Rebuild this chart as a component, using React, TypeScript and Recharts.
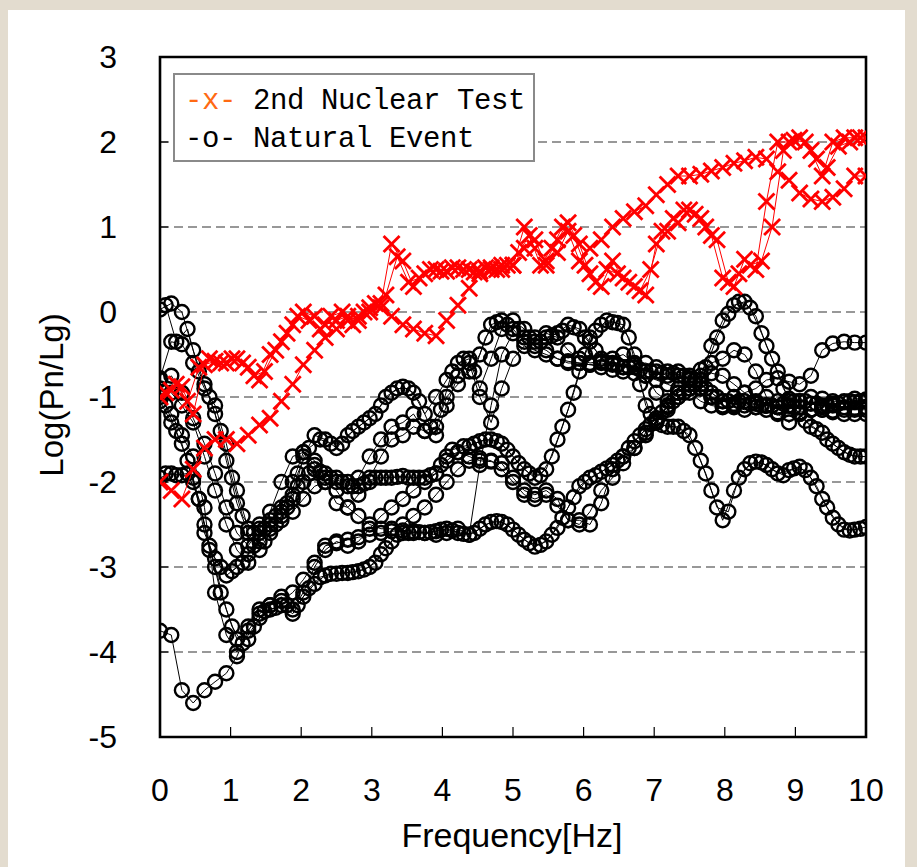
import React from 'react';
import { ScatterChart, Scatter, XAxis, YAxis, CartesianGrid, ReferenceArea } from 'recharts';

// Frequency grids (Hz)
const FREQ = [0, 0.16, 0.31, 0.47, 0.63, 0.78, 0.94, 1.09, 1.25, 1.41, 1.56, 1.72, 1.88, 2.03, 2.19, 2.34, 2.5, 2.66, 2.81, 2.97, 3.13, 3.28, 3.44, 3.59, 3.75, 3.91, 4.06, 4.22, 4.38, 4.53, 4.69, 4.84, 5.0, 5.16, 5.31, 5.47, 5.63, 5.78, 5.94, 6.09, 6.25, 6.41, 6.56, 6.72, 6.88, 7.03, 7.19, 7.34, 7.5, 7.66, 7.81, 7.97, 8.13, 8.28, 8.44, 8.59, 8.75, 8.91, 9.06, 9.22, 9.38, 9.53, 9.69, 9.84, 10.0];
const FREQ_B = [0.08, 0.23, 0.39, 0.55, 0.7, 0.86, 1.02, 1.17, 1.33, 1.48, 1.64, 1.8, 1.95, 2.11, 2.27, 2.42, 2.58, 2.73, 2.89, 3.05, 3.2, 3.36, 3.52, 3.67, 3.83, 3.98, 4.14, 4.3, 4.45, 4.61, 4.77, 4.92, 5.08, 5.23, 5.39, 5.55, 5.7, 5.86, 6.02, 6.17, 6.33, 6.48, 6.64, 6.8, 6.95, 7.11, 7.27, 7.42, 7.58, 7.73, 7.89, 8.05, 8.2, 8.36, 8.52, 8.67, 8.83, 8.98, 9.14, 9.3, 9.45, 9.61, 9.77, 9.92];

const X_TICKS = [0, 1, 2, 3, 4, 5, 6, 7, 8, 9, 10];
const Y_TICKS = [-5, -4, -3, -2, -1, 0, 1, 2, 3];

const LEGEND_NUCLEAR = '2nd Nuclear Test';
const LEGEND_NATURAL = 'Natural Event';
const X_LABEL = 'Frequency[Hz]';
const Y_LABEL = 'Log(Pn/Lg)';

// 2nd Nuclear Test (red x)
const NUCLEAR_1 = [-1.0, -0.92, -0.88, -1.2, -0.62, -0.58, -0.6, -0.55, -0.65, -0.8, -0.5, -0.35, -0.15, 0.0, -0.05, -0.15, -0.1, -0.05, -0.1, 0.05, 0.1, 0.8, 0.6, 0.3, 0.45, 0.5, 0.48, 0.52, 0.5, 0.48, 0.52, 0.5, 0.55, 1.0, 0.75, 0.6, 0.85, 1.05, 0.8, 0.45, 0.3, 0.6, 0.4, 0.3, 0.2, 0.8, 0.95, 1.05, 1.2, 1.1, 0.9, 0.4, 0.3, 0.62, 0.5, 1.3, 2.0, 2.0, 2.05, 1.9, 1.6, 2.0, 2.05, 2.05, 2.05];
const NUCLEAR_2 = [-2.0, -2.1, -2.2, -1.85, -1.6, -1.5, -1.5, -1.55, -1.45, -1.33, -1.25, -1.05, -0.85, -0.62, -0.45, -0.3, -0.2, -0.1, -0.05, 0.0, 0.05, -0.05, -0.15, -0.2, -0.25, -0.28, -0.1, 0.08, 0.28, 0.45, 0.5, 0.55, 0.55, 0.75, 0.85, 0.55, 0.7, 0.95, 0.6, 0.75, 0.85, 1.0, 1.1, 1.18, 1.25, 1.38, 1.5, 1.6, 1.6, 1.62, 1.66, 1.7, 1.75, 1.78, 1.82, 1.8, 1.65, 1.55, 1.4, 1.33, 1.3, 1.35, 1.45, 1.6, 1.6];
// on FREQ_B
const NUCLEAR_3 = [-0.95, -0.85, -1.05, -0.65, -0.55, -0.6, -0.55, -0.6, -0.75, -0.7, -0.45, -0.25, -0.05, -0.1, -0.2, -0.05, 0.0, -0.15, 0.0, 0.1, 0.2, 0.65, 0.35, 0.4, 0.5, 0.48, 0.52, 0.5, 0.47, 0.52, 0.5, 0.55, 0.7, 0.9, 0.55, 0.75, 1.0, 0.9, 0.55, 0.35, 0.5, 0.45, 0.35, 0.25, 0.5, 0.95, 1.1, 1.2, 1.15, 1.0, 0.85, 0.35, 0.45, 0.55, 0.6, 1.0, 1.9, 2.02, 2.0, 1.8, 1.7, 1.95, 2.0, 2.05];

// Natural Event (black o) on FREQ
const NATURAL_1 = [0.03, 0.1, 0.0, -0.45, -0.85, -1.2, -1.75, -2.25, -2.6, -2.8, -2.6, -2.4, -2.2, -1.7, -1.45, -1.5, -1.6, -1.45, -1.35, -1.25, -1.1, -0.95, -0.88, -0.95, -1.2, -1.0, -0.8, -0.6, -0.55, -0.9, -0.55, -0.2, -0.1, -0.2, -0.35, -0.3, -0.25, -0.15, -0.2, -0.35, -0.55, -0.6, -0.65, -0.65, -0.7, -0.7, -0.75, -0.7, -0.75, -0.85, -0.95, -1.05, -1.0, -0.95, -0.9, -0.8, -0.78, -0.82, -0.85, -0.75, -0.45, -0.37, -0.35, -0.36, -0.36];
const NATURAL_2 = [-0.78, -0.35, -0.38, -0.6, -0.9, -1.1, -1.55, -2.1, -2.55, -2.5, -2.45, -2.35, -2.0, -1.65, -1.75, -1.95, -2.0, -2.05, -1.95, -1.7, -1.5, -1.35, -1.3, -1.2, -1.4, -1.45, -1.1, -0.75, -0.6, -1.0, -1.3, -0.9, -0.55, -0.4, -0.45, -0.5, -0.55, -0.6, -0.6, -0.62, -0.65, -0.68, -0.7, -0.72, -0.75, -0.8, -0.85, -0.9, -0.95, -1.05, -1.1, -1.12, -1.1, -1.05, -1.08, -1.1, -1.12, -1.1, -1.05, -1.0, -1.02, -1.05, -1.05, -1.02, -1.03];
const NATURAL_3 = [-1.0, -1.2, -1.45, -1.7, -2.3, -3.3, -3.8, -4.0, -3.7, -3.5, -3.45, -3.35, -3.5, -3.3, -3.0, -2.8, -2.7, -2.75, -2.7, -2.55, -2.4, -2.3, -2.2, -2.1, -2.0, -1.9, -1.75, -1.65, -1.58, -1.52, -1.5, -1.55, -1.7, -1.85, -1.95, -1.85, -1.5, -1.15, -0.7, -0.3, -0.15, -0.12, -0.15, -0.5, -1.1, -1.3, -1.35, -1.35, -1.45, -1.75, -2.1, -2.45, -2.1, -1.85, -1.76, -1.8, -1.9, -1.86, -1.82, -1.95, -2.2, -2.42, -2.56, -2.56, -2.53];
const NATURAL_4 = [-1.95, -1.9, -1.92, -1.95, -2.6, -2.9, -3.1, -3.0, -2.85, -2.6, -2.5, -2.3, -2.15, -2.0, -1.85, -1.9, -1.95, -2.0, -2.05, -2.0, -1.95, -1.95, -1.93, -1.95, -1.95, -1.9, -1.7, -1.65, -1.7, -1.75, -1.76, -1.78, -1.95, -2.1, -2.15, -2.1, -2.2, -2.45, -2.45, -2.5, -2.25, -1.85, -1.7, -1.6, -1.45, -1.3, -1.15, -1.0, -0.9, -0.75, -0.4, -0.1, 0.08, 0.12, -0.05, -0.4, -0.7, -1.05, -1.2, -1.35, -1.42, -1.55, -1.65, -1.7, -1.7];
const NATURAL_5 = [-3.75, -3.8, -4.45, -4.6, -4.45, -4.35, -4.25, -4.05, -3.75, -3.55, -3.45, -3.4, -3.3, -3.15, -2.95, -2.75, -2.72, -2.68, -2.65, -2.62, -2.6, -2.58, -2.57, -2.58, -2.6, -2.58, -2.55, -2.6, -2.62, -2.55, -2.47, -2.47, -2.56, -2.68, -2.76, -2.7, -2.54, -2.3, -2.05, -1.95, -1.88, -1.8, -1.7, -1.52, -1.38, -1.25, -1.12, -1.0, -0.9, -0.8, -0.72, -0.75, -0.85, -0.95, -1.05, -1.1, -1.12, -1.1, -1.12, -1.15, -1.12, -1.1, -1.12, -1.13, -1.12];
const NATURAL_6 = [-1.05, -1.3, -1.55, -2.0, -2.5, -3.0, -3.5, -3.85, -3.85, -3.6, -3.5, -3.45, -3.55, -3.35, -3.2, -3.1, -3.08, -3.07, -3.05, -3.0, -2.85, -2.7, -2.5, -2.4, -2.3, -2.15, -2.0, -1.85, -1.75, -1.72, -1.75, -1.85, -2.0, -2.15, -2.2, -2.15, -2.28, -2.45, -2.5, -2.35, -2.1, -1.95, -1.78, -1.6, -1.42, -1.28, -1.1, -0.95, -0.78, -0.68, -0.6, -0.55, -0.45, -0.5, -0.7, -1.0, -1.2, -1.3, -1.2, -1.15, -1.15, -1.18, -1.2, -1.2, -1.2];
const NATURAL_7 = [-0.8, -0.95, -1.1, -1.3, -1.7, -2.1, -2.5, -2.8, -2.95, -2.7, -2.55, -2.45, -2.35, -2.2, -2.05, -2.0, -2.1, -2.3, -2.4, -2.5, -2.55, -2.55, -2.6, -2.6, -2.6, -2.62, -2.6, -2.55, -2.62, -1.8, -1.1, -0.5, -0.25, -0.3, -0.4, -0.45, -0.55, -0.58, -0.6, -0.62, -0.6, -0.62, -0.65, -0.62, -0.6, -0.65, -0.7, -0.75, -0.8, -0.9, -1.0, -1.05, -1.08, -1.1, -1.12, -1.15, -1.18, -1.2, -1.18, -1.15, -1.15, -1.16, -1.15, -1.15, -1.15];
const NATURAL_8 = [-0.9, -0.75, -0.95, -1.25, -1.55, -1.9, -2.3, -2.6, -2.75, -2.55, -2.35, -2.0, -1.7, -1.65, -1.8, -2.0, -2.25, -2.3, -2.15, -1.95, -1.7, -1.5, -1.45, -1.35, -1.4, -1.35, -1.0, -0.85, -0.7, -0.5, -0.15, -0.1, -0.2, -0.35, -0.3, -0.25, -0.3, -0.45, -0.55, -0.6, -0.58, -0.55, -0.5, -0.6, -0.75, -0.95, -1.05, -0.95, -0.85, -0.9, -1.0, -1.1, -1.12, -1.15, -1.12, -1.1, -1.05, -1.02, -1.05, -1.08, -1.1, -1.08, -1.06, -1.06, -1.05];
// Natural Event (black o) on FREQ_B
const NATURAL_9 = [0.08, -0.35, -0.2, -0.7, -1.0, -1.4, -1.95, -2.4, -2.6, -2.7, -2.5, -2.3, -1.9, -1.6, -1.5, -1.55, -1.55, -1.4, -1.3, -1.2, -1.0, -0.9, -0.9, -1.05, -1.35, -1.15, -0.7, -0.55, -0.7, -0.3, -0.12, -0.15, -0.2, -0.3, -0.35, -0.28, -0.22, -0.18, -0.3, -0.45, -0.6, -0.62, -0.65, -0.68, -0.7, -0.72, -0.72, -0.75, -0.8, -0.9, -1.0, -1.05, -1.05, -1.08, -1.1, -1.1, -1.08, -1.05, -1.05, -1.08, -1.1, -1.08, -1.05, -1.05];
const NATURAL_10 = [-1.9, -1.92, -1.9, -2.2, -2.8, -3.0, -3.05, -2.95, -2.75, -2.55, -2.4, -2.25, -2.05, -1.9, -1.88, -1.95, -2.0, -2.05, -2.02, -1.95, -1.95, -1.94, -1.95, -1.95, -1.92, -1.8, -1.62, -1.58, -1.55, -1.5, -1.52, -1.62, -1.78, -1.9, -1.92, -1.7, -1.35, -0.95, -0.5, -0.22, -0.1, -0.13, -0.3, -0.85, -1.2, -1.33, -1.35, -1.4, -1.6, -1.9, -2.3, -2.35, -1.95, -1.78, -1.77, -1.85, -1.92, -1.84, -1.86, -2.05, -2.3, -2.5, -2.57, -2.55];
const NATURAL_11 = [-1.1, -1.4, -1.75, -2.2, -2.75, -3.3, -3.7, -3.9, -3.7, -3.52, -3.48, -3.45, -3.45, -3.25, -3.12, -3.08, -3.07, -3.06, -3.03, -2.95, -2.78, -2.62, -2.6, -2.59, -2.59, -2.56, -2.57, -2.61, -2.6, -2.5, -2.46, -2.5, -2.62, -2.72, -2.74, -2.62, -2.42, -2.18, -2.0, -1.92, -1.84, -1.75, -1.6, -1.45, -1.32, -1.18, -1.05, -0.95, -0.85, -0.65, -0.3, -0.02, 0.12, 0.05, -0.25, -0.55, -0.9, -1.12, -1.28, -1.38, -1.5, -1.6, -1.68, -1.7];

const NUCLEAR_SERIES = [
  { freq: FREQ, vals: NUCLEAR_1 },
  { freq: FREQ, vals: NUCLEAR_2 },
  { freq: FREQ_B, vals: NUCLEAR_3 },
];
const NATURAL_SERIES = [
  { freq: FREQ, vals: NATURAL_1 },
  { freq: FREQ, vals: NATURAL_2 },
  { freq: FREQ, vals: NATURAL_3 },
  { freq: FREQ, vals: NATURAL_4 },
  { freq: FREQ, vals: NATURAL_5 },
  { freq: FREQ, vals: NATURAL_6 },
  { freq: FREQ, vals: NATURAL_7 },
  { freq: FREQ, vals: NATURAL_8 },
  { freq: FREQ_B, vals: NATURAL_9 },
  { freq: FREQ_B, vals: NATURAL_10 },
  { freq: FREQ_B, vals: NATURAL_11 },
];

const toPoints = (freq: number[], vals: number[]) => vals.map((y, i) => ({ x: freq[i], y }));

const CircleMark = (props: any) => {
  const { cx, cy } = props;
  if (cx == null || cy == null) return null;
  return <circle cx={cx} cy={cy} r={7} fill="none" stroke="#000" strokeWidth={2.4} />;
};

const CrossMark = (props: any) => {
  const { cx, cy } = props;
  if (cx == null || cy == null) return null;
  const s = 8;
  return (
    <g stroke="#ff0000" strokeWidth={2.8}>
      <line x1={cx - s} y1={cy - s} x2={cx + s} y2={cy + s} />
      <line x1={cx - s} y1={cy + s} x2={cx + s} y2={cy - s} />
    </g>
  );
};

const SANS = '"Liberation Sans", Arial, sans-serif';
const MONO = '"Liberation Mono", "DejaVu Sans Mono", monospace';

export default function App() {
  return (
    <div style={{ position: 'absolute', left: 0, top: 0, width: 917, height: 867, background: '#e3dccf', overflow: 'hidden' }}>
      <div style={{ position: 'absolute', left: 8, top: 10, width: 897, height: 857, background: '#ffffff' }} />
      <div style={{ position: 'absolute', left: 0, top: 0 }}>
        <ScatterChart width={917} height={867} margin={{ top: 57, right: 51, bottom: 70, left: 100 }}>
          <CartesianGrid vertical={false} stroke="#333" strokeDasharray="9 5" strokeWidth={1.2} />
          <XAxis
            type="number"
            dataKey="x"
            domain={[0, 10]}
            ticks={X_TICKS}
            interval={0}
            allowDataOverflow
            axisLine={false}
            tickSize={-10}
            tickMargin={51}
            height={60}
            tickLine={{ stroke: '#000', strokeWidth: 1.2 }}
            tick={{ fontSize: 32, fill: '#000', fontFamily: SANS }}
          />
          <YAxis
            type="number"
            dataKey="y"
            domain={[-5, 3]}
            ticks={Y_TICKS}
            interval={0}
            allowDataOverflow
            axisLine={false}
            tickSize={-8}
            tickMargin={51}
            width={60}
            tickLine={{ stroke: '#000', strokeWidth: 1.2 }}
            tick={{ fontSize: 32, fill: '#000', fontFamily: SANS }}
          />
          {NATURAL_SERIES.map((s, k) => (
            <Scatter
              key={'n' + k}
              data={toPoints(s.freq, s.vals)}
              line={{ stroke: '#000', strokeWidth: 1 }}
              shape={CircleMark}
              isAnimationActive={false}
            />
          ))}
          {NUCLEAR_SERIES.map((s, k) => (
            <Scatter
              key={'r' + k}
              data={toPoints(s.freq, s.vals)}
              line={{ stroke: '#ff0000', strokeWidth: 1 }}
              shape={CrossMark}
              isAnimationActive={false}
            />
          ))}
          <ReferenceArea x1={0} x2={10} y1={-5} y2={3} fill="none" fillOpacity={0} stroke="#000" strokeWidth={2.6} ifOverflow="visible" />
        </ScatterChart>
      </div>
      <div
        style={{
          position: 'absolute', left: 173, top: 73, width: 362, height: 89, boxSizing: 'border-box',
          border: '2px solid #8a8a8a', background: '#fff', fontFamily: MONO, fontSize: 29, color: '#000',
          letterSpacing: -0.4, whiteSpace: 'pre', lineHeight: '36px',
        }}
      >
        <div style={{ position: 'absolute', left: 10, top: 9 }}>
          <span style={{ color: '#ff6a13' }}>-x-</span> {LEGEND_NUCLEAR}
        </div>
        <div style={{ position: 'absolute', left: 10, top: 47 }}>
          <span>-o-</span> {LEGEND_NATURAL}
        </div>
      </div>
      <div
        style={{
          position: 'absolute', left: 52, top: 395, transform: 'translate(-50%, -50%) rotate(-90deg)',
          fontFamily: SANS, fontSize: 33, whiteSpace: 'nowrap', color: '#000',
        }}
      >
        {Y_LABEL}
      </div>
      <div
        style={{
          position: 'absolute', left: 512, top: 835, transform: 'translate(-50%, -50%)',
          fontFamily: SANS, fontSize: 34, whiteSpace: 'nowrap', color: '#000',
        }}
      >
        {X_LABEL}
      </div>
    </div>
  );
}
